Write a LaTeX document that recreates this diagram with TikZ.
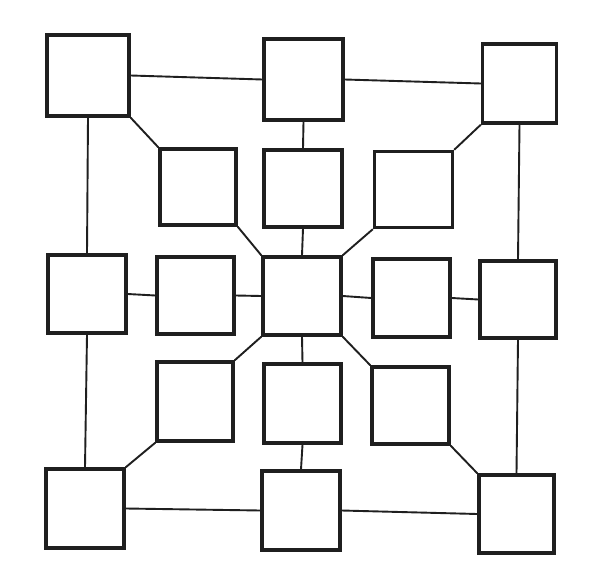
\documentclass[tikz,border=0pt]{standalone}
\begin{document}
\begin{tikzpicture}[x=1pt,y=-1pt,
  box/.style={draw=black!88, line width=3.4pt, fill=white, rectangle, inner sep=0pt},
  link/.style={draw=black!88, line width=1.9pt}]
\useasboundingbox[fill=white] (0,0) rectangle (589,567);
% squares
\node[box, minimum width=82pt, minimum height=81pt] (TL)  at (88,75.5) {};
\node[box, minimum width=79pt, minimum height=81pt] (TM)  at (303.5,79.5) {};
\node[box, minimum width=74pt, minimum height=79pt] (TR)  at (519.5,83.5) {};
\node[box, minimum width=76pt, minimum height=76pt] (R2L) at (198,187) {};
\node[box, minimum width=78pt, minimum height=77pt] (R2M) at (303,188.5) {};
\node[box, minimum width=78pt, minimum height=76pt] (R2R) at (413.5,189.5) {};
\node[box, minimum width=78pt, minimum height=78pt] (ML)  at (87,294) {};
\node[box, minimum width=77pt, minimum height=77pt] (R3L) at (195.5,295.5) {};
\node[box, minimum width=78pt, minimum height=78pt] (C)   at (302,296) {};
\node[box, minimum width=77pt, minimum height=78pt] (R3R) at (411.5,298) {};
\node[box, minimum width=76pt, minimum height=77pt] (MR)  at (518,299.5) {};
\node[box, minimum width=76pt, minimum height=79pt] (R4L) at (195,401.5) {};
\node[box, minimum width=77pt, minimum height=79pt] (R4M) at (302.5,403.5) {};
\node[box, minimum width=77pt, minimum height=77pt] (R4R) at (410.5,405.5) {};
\node[box, minimum width=78pt, minimum height=79pt] (BL)  at (85,508.5) {};
\node[box, minimum width=78pt, minimum height=79pt] (BM)  at (301,510.5) {};
\node[box, minimum width=75pt, minimum height=78pt] (BR)  at (516.5,514) {};
% outer frame connectors
\draw[link] (TL.east) -- (TM.west);
\draw[link] (TM.east) -- (TR.west);
\draw[link] (TL.south) -- (ML.north);
\draw[link] (ML.south) -- (BL.north);
\draw[link] (TR.south) -- (MR.north);
\draw[link] (MR.south) -- (BR.north);
\draw[link] (BL.east) -- (BM.west);
\draw[link] (BM.east) -- (BR.west);
% central cross
\draw[link] (TM.south) -- (R2M.north);
\draw[link] (R2M.south) -- (C.north);
\draw[link] (C.south) -- (R4M.north);
\draw[link] (R4M.south) -- (BM.north);
\draw[link] (ML.east) -- (R3L.west);
\draw[link] (R3L.east) -- (C.west);
\draw[link] (C.east) -- (R3R.west);
\draw[link] (R3R.east) -- (MR.west);
% diagonals
\draw[link] (TL.south east) -- (R2L.north west);
\draw[link] (R2L.south east) -- (C.north west);
\draw[link] (TR.south west) -- (R2R.north east);
\draw[link] (R2R.south west) -- (C.north east);
\draw[link] (C.south west) -- (R4L.north east);
\draw[link] (R4L.south west) -- (BL.north east);
\draw[link] (C.south east) -- (R4R.north west);
\draw[link] (R4R.south east) -- (BR.north west);
\end{tikzpicture}
\end{document}
